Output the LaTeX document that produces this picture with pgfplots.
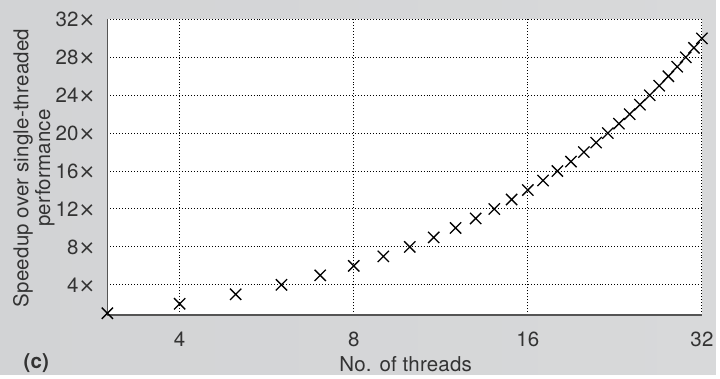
\documentclass[border=0pt]{standalone}
\usepackage{pgfplots}
\pgfplotsset{compat=1.18}
\usepackage{fontspec}
\setmainfont{TeX Gyre Heros}[LetterSpace=1]
\newfontfamily\dv{DejaVu Sans}
\definecolor{bgL}{HTML}{D2D3D5}
\definecolor{bgM}{HTML}{F7F7F7}
\definecolor{bgR}{HTML}{D8D9DA}
\definecolor{txt}{HTML}{333333}
\definecolor{axl}{HTML}{555555}
\newcommand{\ff}{\fontsize{10.3bp}{11bp}\selectfont}
\newcommand{\tx}{{\dv\fontsize{10bp}{11bp}\selectfont ×}}
\begin{document}
\begin{tikzpicture}[x=1bp,y=1bp]
\shade[left color=bgL, middle color=bgM, right color=bgR] (0,0) rectangle (360,188.5);
\begin{axis}[
 at={(54bp,30bp)}, anchor=south west,
 width=299bp, height=148.75bp, scale only axis,
 xmode=log, log basis x=2, xmin=3, xmax=32, ymin=0.8, ymax=32,
 xtick={4,8,16,32}, xticklabels={4,8,16,32},
 ytick={4,8,12,16,20,24,28,32}, yticklabels={4\tx,8\tx,12\tx,16\tx,20\tx,24\tx,28\tx,32\tx},
 major tick length=0pt,
 axis x line*=bottom, axis y line*=left,
 axis line style={-, axl, line width=0.8bp},
 grid=major, major grid style={black, line width=0.5bp, dash pattern=on 0.5bp off 1bp},
 axis background/.style={fill=white},
 tick label style={font=\ff, text=txt},
 xticklabel style={yshift=-5bp},
 yticklabel style={xshift=-2.6bp},
 clip=false,
]
\addplot[only marks, mark=x, mark size=4bp, black, line width=0.65bp] coordinates {
(3,1) (4,2) (5,3) (6,4) (7,5) (8,6) (9,7) (10,8) (11,9) (12,10)
(13,11) (14,12) (15,13) (16,14) (17,15) (18,16) (19,17) (20,18) (21,19) (22,20)
(23,21) (24,22) (25,23) (26,24) (27,25) (28,26) (29,27) (30,28) (31,29) (32,30)
};
\end{axis}
\node[font=\ff, text=txt, anchor=base] at (204,1.5) {No. of threads};
\node[font=\ff\bfseries, text=txt] at (18.25,6) {(c)};
\node[font=\ff, text=txt, rotate=90, align=center] at (17,104) {Speedup over single-threaded\\performance};
\end{tikzpicture}
\end{document}
